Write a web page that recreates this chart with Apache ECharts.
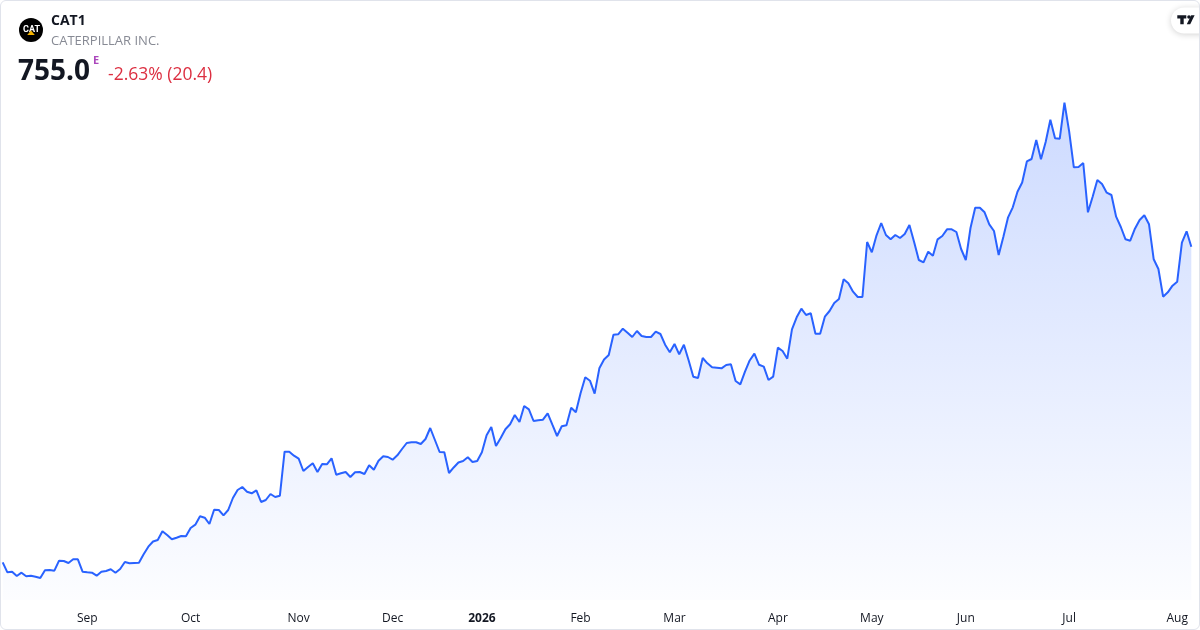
<!DOCTYPE html>
<html>
<head>
<meta charset="utf-8">
<script src="https://cdn.jsdelivr.net/npm/echarts@6/dist/echarts.min.js"></script>
<style>
  html, body { margin: 0; padding: 0; background: #ffffff; }
  #wrap { position: relative; width: 1200px; height: 630px; }
  #chart { width: 1200px; height: 630px; }
  #frame { position: absolute; left: 0; top: 0; width: 1200px; height: 630px; box-sizing: border-box;
           border: 1px solid #e0e3eb; border-radius: 6px; pointer-events: none; }
</style>
</head>
<body>
<div id="wrap"><div id="chart"></div><div id="frame"></div></div>
<script>
// ---- Data ----
const symbol = 'CAT1';
const companyName = 'CATERPILLAR INC.';
const lastPrice = '755.0';
const changeText = '-2.63% (20.4)';

// Daily closes, Aug 2025 -> Aug 2026
const closes = [
  344.7, 331.7, 332.5, 326.9, 331.2, 326.5, 327.3, 326.0, 324.3, 334.3,
  334.7, 333.8, 346.8, 346.4, 343.8, 348.6, 348.6, 332.5, 331.7, 331.2,
  327.3, 332.5, 333.4, 335.6, 331.2, 336.0, 345.1, 343.4, 343.8, 344.2,
  355.1, 365.0, 371.7, 373.7, 385.0, 380.2, 374.6, 376.7, 378.9, 378.5,
  389.3, 393.6, 404.5, 402.7, 394.5, 413.1, 412.7, 405.8, 412.7, 428.3,
  438.7, 442.6, 436.5, 434.4, 438.3, 423.1, 425.7, 433.5, 429.6, 431.3,
  488.5, 488.5, 483.3, 479.4, 463.4, 468.6, 473.4, 462.1, 472.5, 472.1,
  479.9, 458.6, 460.4, 462.1, 455.6, 461.7, 462.1, 459.5, 470.8, 465.1,
  476.8, 482.5, 481.6, 478.1, 483.8, 492.0, 499.8, 500.7, 500.7, 498.5,
  505.0, 519.3, 503.7, 488.1, 487.7, 460.8, 468.0, 474.5, 476.4, 481.2,
  475.1, 476.4, 487.7, 509.8, 520.6, 495.9, 506.3, 517.6, 524.1, 536.2,
  527.1, 547.9, 543.6, 528.4, 529.3, 530.1, 538.4, 523.6, 508.9, 521.5,
  522.8, 545.7, 539.7, 564.4, 585.2, 580.8, 563.9, 596.9, 608.4, 614.2,
  640.6, 641.1, 648.4, 643.2, 637.6, 645.4, 638.9, 637.6, 637.6, 644.5,
  641.5, 627.6, 617.7, 628.5, 615.1, 627.6, 607.3, 586.0, 584.3, 610.3,
  603.4, 598.2, 597.7, 596.9, 601.2, 602.1, 580.4, 576.1, 592.5, 607.1,
  615.9, 601.5, 599.0, 581.7, 586.0, 623.7, 619.4, 609.4, 647.6, 663.2,
  674.4, 666.2, 668.4, 641.9, 641.9, 664.0, 671.4, 681.8, 687.0, 712.6,
  707.4, 696.5, 689.6, 689.6, 761.1, 747.7, 769.8, 785.8, 770.2, 764.6,
  770.2, 766.3, 771.5, 783.2, 761.1, 737.7, 734.7, 748.5, 743.3, 764.6,
  768.9, 777.6, 777.6, 774.1, 752.0, 737.7, 779.3, 805.7, 805.7, 799.7,
  784.1, 775.4, 744.2, 768.0, 793.2, 806.2, 826.5, 838.5, 865.8, 869.0,
  893.7, 868.7, 891.1, 920.1, 895.9, 895.4, 942.2, 905.0, 858.2, 858.6,
  863.8, 799.7, 820.0, 841.7, 836.5, 825.2, 822.2, 794.0, 780.6, 764.6,
  762.8, 778.4, 789.7, 795.8, 784.1, 738.6, 726.0, 690.0, 695.7, 704.3,
  709.5, 760.2, 775.0, 755.0
];

// Month tick labels and the bar (session) index where each appears
const tickLabels = ['Sep', 'Oct', 'Nov', 'Dec', '2026', 'Feb', 'Mar', 'Apr', 'May', 'Jun', 'Jul', 'Aug'];
const tickIndex  = [18, 40, 63, 83, 102, 123, 143, 165, 185, 205, 227, 250];

// Session categories (weekdays starting 2025-08-06)
const sessions = [];
(function () {
  const d = new Date(Date.UTC(2025, 7, 6));
  while (sessions.length < closes.length) {
    const wd = d.getUTCDay();
    if (wd !== 0 && wd !== 6) sessions.push(d.toISOString().slice(0, 10));
    d.setUTCDate(d.getUTCDate() + 1);
  }
})();

const FONT = "'Open Sans', 'Noto Sans', sans-serif";
const chart = echarts.init(document.getElementById('chart'), null, { renderer: 'canvas' });

chart.setOption({
  animation: false,
  backgroundColor: '#ffffff',
  grid: { left: 2.7, right: 8.7, top: 90, bottom: 30, containLabel: false },
  xAxis: {
    type: 'category',
    data: sessions,
    boundaryGap: false,
    axisLine: { show: false },
    axisTick: { show: false },
    splitLine: { show: false },
    axisLabel: {
      interval: function (i) { return tickIndex.indexOf(i) >= 0; },
      formatter: function (v, i) {
        const k = tickIndex.indexOf(i);
        if (k < 0) return '';
        const t = tickLabels[k];
        return /^\d{4}$/.test(t) ? '{b|' + t + '}' : t;
      },
      margin: 13,
      color: '#131722',
      fontSize: 12,
      fontFamily: FONT,
      hideOverlap: false,
      rich: { b: { fontWeight: 'bold', fontSize: 12, color: '#131722', fontFamily: FONT } }
    }
  },
  yAxis: {
    type: 'value',
    min: 295.7,
    max: 958.7,
    show: false,
    splitLine: { show: false }
  },
  series: [{
    type: 'line',
    data: closes,
    symbol: 'none',
    smooth: false,
    lineStyle: { color: '#2962ff', width: 2 },
    areaStyle: {
      color: new echarts.graphic.LinearGradient(0, 0, 0, 600, [
        { offset: 0, color: 'rgba(41,98,255,0.40)' },
        { offset: 1, color: 'rgba(41,98,255,0.02)' }
      ], true)
    }
  }],
  graphic: [
    { type: 'circle', shape: { cx: 31, cy: 30, r: 12 }, style: { fill: '#000000' } },
    { type: 'text', x: 31.5, y: 29.5, style: { text: 'CAT', fill: '#ffffff', font: "bold 9px 'Roboto', sans-serif", align: 'center', verticalAlign: 'middle' } },
    { type: 'polygon', shape: { points: [[31, 30.5], [34.8, 35], [27.2, 35]] }, style: { fill: '#f6b400' } },
    { type: 'text', x: 51, y: 21, style: { text: symbol, fill: '#131722', font: "bold 14px " + FONT, verticalAlign: 'middle' } },
    { type: 'text', x: 51, y: 41, style: { text: companyName, fill: '#878a94', font: "13px " + FONT, verticalAlign: 'middle' } },
    { type: 'text', x: 18, y: 72, style: { text: lastPrice, fill: '#131722', font: "bold 28px " + FONT, verticalAlign: 'middle' } },
    { type: 'text', x: 93, y: 61, style: { text: 'E', fill: '#ab47bc', font: "bold 11px " + FONT, verticalAlign: 'middle' } },
    { type: 'text', x: 108, y: 75.5, style: { text: changeText, fill: '#dc2f41', font: "17.5px " + FONT, verticalAlign: 'middle' } },
    // TradingView badge
    { type: 'rect', shape: { x: 1171, y: 7.5, width: 44, height: 26, r: 13 },
      style: { fill: '#ffffff', shadowBlur: 6, shadowColor: 'rgba(0,0,0,0.18)', shadowOffsetY: 1 } },
    { type: 'polygon', shape: { points: [[1177.3, 15.2], [1186.3, 15.2], [1186.3, 18.6], [1183.7, 18.6], [1183.7, 24.3], [1180.3, 24.3], [1180.3, 18.6], [1177.3, 18.6]] }, style: { fill: '#131722' } },
    { type: 'circle', shape: { cx: 1189, cy: 17, r: 1.8 }, style: { fill: '#131722' } },
    { type: 'polygon', shape: { points: [[1191.2, 15.2], [1194.6, 15.2], [1190.2, 24.3], [1186.8, 24.3]] }, style: { fill: '#131722' } }
  ]
});
</script>
</body>
</html>
